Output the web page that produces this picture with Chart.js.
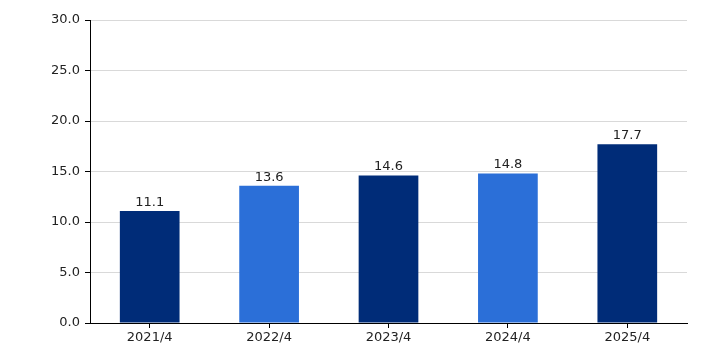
<!DOCTYPE html>
<html>
<head>
<meta charset="utf-8">
<script src="https://cdn.jsdelivr.net/npm/chart.js@4.4.1/dist/chart.umd.min.js"></script>
<style>
  html, body { margin: 0; padding: 0; background: #fff; }
  #wrap { width: 706px; height: 353px; }
</style>
</head>
<body>
<div id="wrap"><canvas id="chart" width="706" height="353"></canvas></div>
<script>
const categories = ["2021/4", "2022/4", "2023/4", "2024/4", "2025/4"];
const values = [11.1, 13.6, 14.6, 14.8, 17.7];
const barColors = ["#002c78", "#2b6fd8", "#002c78", "#2b6fd8", "#002c78"];
const yTicks = [0, 5, 10, 15, 20, 25, 30];

// draws the value over each bar
const valueLabels = {
    id: 'valueLabels',
    afterDatasetsDraw(chart) {
        const ctx = chart.ctx;
        const meta = chart.getDatasetMeta(0);
        ctx.save();
        ctx.font = '13px "DejaVu Sans", Verdana, sans-serif';
        ctx.fillStyle = '#222';
        ctx.textAlign = 'center';
        ctx.textBaseline = 'bottom';
        meta.data.forEach(function(bar, i) {
            ctx.fillText(values[i].toFixed(1), bar.x, bar.y - 2);
        });
        ctx.restore();
    }
};

const ctx = document.getElementById('chart').getContext('2d');
new Chart(ctx, {
    type: 'bar',
    data: {
        labels: categories,
        datasets: [{
            data: values,
            backgroundColor: barColors,
            borderWidth: 0,
            barPercentage: 0.5,
            categoryPercentage: 1.0
        }]
    },
    options: {
        responsive: false,
        animation: false,
        devicePixelRatio: 1,
        layout: { padding: { top: 20, right: 19, left: 0, bottom: 0 } },
        plugins: {
            legend: { display: false },
            tooltip: { enabled: false }
        },
        scales: {
            x: {
                afterFit: function(scale) { scale.height = 30; },
                grid: {
                    offset: false,
                    drawOnChartArea: false,
                    tickLength: 5,
                    tickColor: '#000'
                },
                border: { color: '#000', width: 1 },
                ticks: {
                    color: '#222',
                    padding: 2,
                    font: { family: '"DejaVu Sans", Verdana, sans-serif', size: 13 }
                }
            },
            y: {
                min: 0,
                max: 30,
                afterFit: function(scale) { scale.width = 90; },
                afterBuildTicks: function(scale) {
                    scale.ticks = yTicks.map(function(v) { return { value: v }; });
                },
                grid: {
                    color: '#d9d9d9',
                    lineWidth: 1,
                    tickLength: 5,
                    tickColor: '#000'
                },
                border: { color: '#000', width: 1 },
                ticks: {
                    color: '#222',
                    padding: 5,
                    font: { family: '"DejaVu Sans", Verdana, sans-serif', size: 13 },
                    callback: function(v) { return Number(v).toFixed(1); }
                }
            }
        }
    },
    plugins: [valueLabels]
});
</script>
</body>
</html>
